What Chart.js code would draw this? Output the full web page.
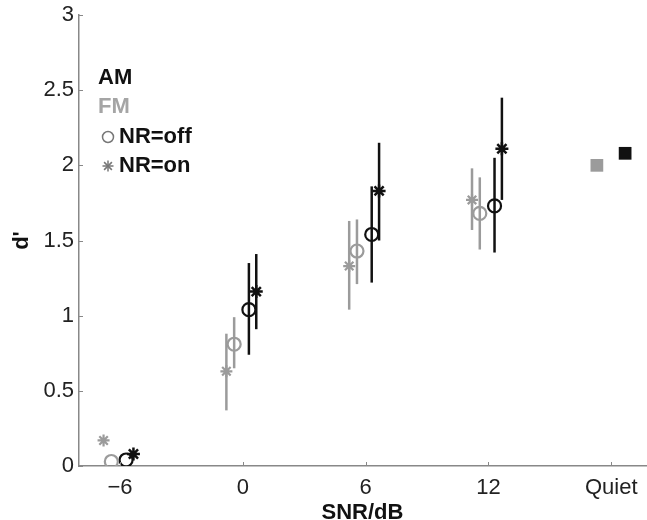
<!DOCTYPE html>
<html>
<head>
<meta charset="utf-8">
<script src="https://cdn.jsdelivr.net/npm/chart.js@4/dist/chart.umd.min.js"></script>
<style>
html,body{margin:0;padding:0;background:#fff;}
#wrap{width:647px;height:520px;}
</style>
</head>
<body>
<div id="wrap"><canvas id="c" width="647" height="520"></canvas></div>
<script>
// ---- data ----
const snrPositions = [-6, 0, 6, 12];
const quietPosition = 18;
const xTickValues = [-6, 0, 6, 12, 18];
const xTickLabels = ['\u22126', '0', '6', '12', 'Quiet'];

const fmOn   = [0.17, 0.63, 1.33, 1.77];
const fmOnLo = [null, 0.37, 1.04, 1.57];
const fmOnHi = [null, 0.88, 1.63, 1.98];

const fmOff   = [0.03, 0.81, 1.43, 1.68];
const fmOffLo = [null, 0.65, 1.21, 1.44];
const fmOffHi = [null, 0.99, 1.64, 1.92];

const amOff   = [0.04, 1.04, 1.54, 1.73];
const amOffLo = [null, 0.74, 1.22, 1.42];
const amOffHi = [null, 1.35, 1.86, 2.05];

const amOn   = [0.08, 1.16, 1.83, 2.11];
const amOnLo = [null, 0.91, 1.50, 1.77];
const amOnHi = [null, 1.41, 2.15, 2.45];

const quietFM = [2.00];
const quietAM = [2.08];

// horizontal dodge of each series around its SNR category
const dodge = {fmOn: -0.8, fmOff: -0.42, amOff: 0.3, amOn: 0.66, quietFM: -0.7, quietAM: 0.68};

const GRAY = '#9b9b9b';
const BLACK = '#111111';
const FONT = '"Liberation Sans", Arial, Helvetica, sans-serif';

function pts(vals, off, base) {
  return vals.map((v, i) => ({x: (base ? base[i] : quietPosition) + off, y: v}));
}

const datasets = [
  {label:'FM NR=on', data: pts(fmOn, dodge.fmOn, snrPositions), errLo: fmOnLo, errHi: fmOnHi,
   pointStyle:'star', pointRadius:6, borderColor:GRAY, pointBorderColor:GRAY, pointBorderWidth:2.2, showLine:false},
  {label:'FM NR=off', data: pts(fmOff, dodge.fmOff, snrPositions), errLo: fmOffLo, errHi: fmOffHi,
   pointStyle:'circle', pointRadius:6.5, borderColor:GRAY, pointBorderColor:GRAY, pointBackgroundColor:'rgba(255,255,255,0)', pointBorderWidth:2.2, showLine:false},
  {label:'AM NR=off', data: pts(amOff, dodge.amOff, snrPositions), errLo: amOffLo, errHi: amOffHi,
   pointStyle:'circle', pointRadius:6.5, borderColor:BLACK, pointBorderColor:BLACK, pointBackgroundColor:'rgba(255,255,255,0)', pointBorderWidth:2.2, showLine:false},
  {label:'AM NR=on', data: pts(amOn, dodge.amOn, snrPositions), errLo: amOnLo, errHi: amOnHi,
   pointStyle:'star', pointRadius:6.5, borderColor:BLACK, pointBorderColor:BLACK, pointBorderWidth:2.5, showLine:false},
  {label:'FM Quiet', data: pts(quietFM, dodge.quietFM), pointStyle:'rect', pointRadius:9,
   borderColor:GRAY, pointBorderColor:GRAY, pointBackgroundColor:GRAY, pointBorderWidth:0, showLine:false},
  {label:'AM Quiet', data: pts(quietAM, dodge.quietAM), pointStyle:'rect', pointRadius:9,
   borderColor:BLACK, pointBorderColor:BLACK, pointBackgroundColor:BLACK, pointBorderWidth:0, showLine:false}
];

const errorBars = {
  id:'errorBars',
  beforeDatasetsDraw(chart) {
    const ctx = chart.ctx, xs = chart.scales.x, ys = chart.scales.y;
    chart.data.datasets.forEach(ds => {
      if (!ds.errLo) return;
      ctx.save();
      ctx.strokeStyle = ds.borderColor;
      ctx.lineWidth = 2.5;
      ds.data.forEach((p, i) => {
        const lo = ds.errLo[i], hi = ds.errHi[i];
        if (lo == null || hi == null) return;
        const px = xs.getPixelForValue(p.x);
        ctx.beginPath();
        ctx.moveTo(px, ys.getPixelForValue(lo));
        ctx.lineTo(px, ys.getPixelForValue(hi));
        ctx.stroke();
      });
      ctx.restore();
    });
  }
};

const decor = {
  id:'decor',
  afterDraw(chart) {
    const ctx = chart.ctx, xs = chart.scales.x, ys = chart.scales.y, a = chart.chartArea;
    ctx.save();
    ctx.strokeStyle = '#888';
    ctx.lineWidth = 1;
    // inward ticks
    ys.ticks.forEach(t => {
      const py = Math.round(ys.getPixelForValue(t.value)) + 0.5;
      ctx.beginPath(); ctx.moveTo(a.left, py); ctx.lineTo(a.left + 4, py); ctx.stroke();
    });
    xs.ticks.forEach(t => {
      const px = Math.round(xs.getPixelForValue(t.value)) + 0.5;
      ctx.beginPath(); ctx.moveTo(px, a.bottom); ctx.lineTo(px, a.bottom - 4); ctx.stroke();
    });
    // legend
    ctx.textBaseline = 'middle';
    ctx.textAlign = 'left';
    ctx.font = 'bold 22px ' + FONT;
    ctx.fillStyle = BLACK; ctx.fillText('AM', 98, 78);
    ctx.fillStyle = '#a5a5a5'; ctx.fillText('FM', 98, 107);
    ctx.fillStyle = BLACK;
    ctx.fillText('NR=off', 119, 137);
    ctx.fillText('NR=on', 119, 166);
    // legend markers
    ctx.strokeStyle = '#777'; ctx.lineWidth = 1.5;
    ctx.beginPath(); ctx.arc(108, 137, 5.5, 0, Math.PI * 2); ctx.stroke();
    const r = 5.5, cx = 108, cy = 166;
    for (let k = 0; k < 4; k++) {
      const ang = k * Math.PI / 4;
      ctx.beginPath();
      ctx.moveTo(cx - r * Math.cos(ang), cy - r * Math.sin(ang));
      ctx.lineTo(cx + r * Math.cos(ang), cy + r * Math.sin(ang));
      ctx.stroke();
    }
    ctx.restore();
  }
};

new Chart(document.getElementById('c'), {
  type:'scatter',
  data:{datasets},
  plugins:[errorBars, decor],
  options:{
    responsive:false,
    animation:false,
    events:[],
    layout:{autoPadding:false, padding:{top:15, right:1, left:0, bottom:0}},
    plugins:{legend:{display:false}, tooltip:{enabled:false}},
    scales:{
      x:{
        type:'linear', min:-8, max:19.7,
        afterBuildTicks(scale){ scale.ticks = xTickValues.map(v => ({value:v})); },
        afterFit(scale){ scale.height = 54; scale.paddingLeft = 0; scale.paddingRight = 0; },
        ticks:{
          callback(v){ const i = xTickValues.indexOf(v); return i >= 0 ? xTickLabels[i] : ''; },
          font:{family:FONT, size:22}, color:'#222', padding:9, maxRotation:0, autoSkip:false
        },
        grid:{display:false, drawTicks:false},
        border:{display:true, color:'#888', width:1.5},
        title:{display:true, text:'SNR/dB', font:{family:FONT, size:22, weight:'bold'}, color:'#111', padding:{top:-8, bottom:-6}}
      },
      y:{
        min:0, max:3,
        afterFit(scale){ scale.width = 79; scale.paddingTop = 0; scale.paddingBottom = 0; },
        ticks:{
          stepSize:0.5,
          callback(v){ return String(Math.round(v * 10) / 10); },
          font:{family:FONT, size:22}, color:'#222', padding:5
        },
        grid:{display:false, drawTicks:false},
        border:{display:true, color:'#888', width:1.5},
        title:{display:true, text:"d'", font:{family:FONT, size:22, weight:'bold'}, color:'#111', padding:{top:9, bottom:0}}
      }
    }
  }
});
</script>
</body>
</html>
